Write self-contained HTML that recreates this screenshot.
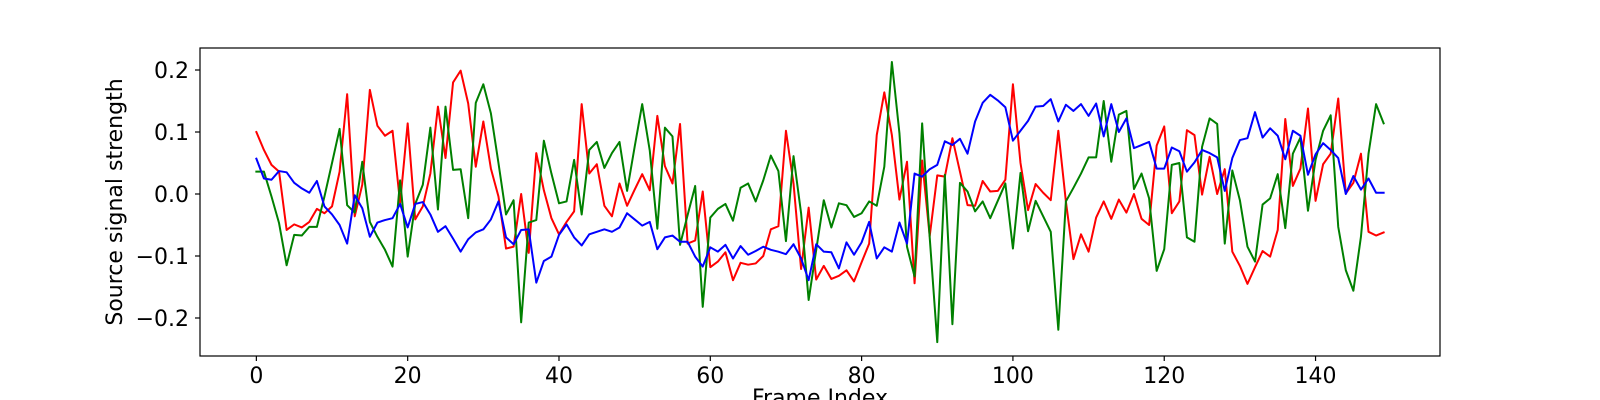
<!DOCTYPE html>
<html><head><meta charset="utf-8"><style>
html,body{margin:0;padding:0;background:#fff;width:1600px;height:400px;overflow:hidden}
svg text{font-family:"DejaVu Sans","Liberation Sans",sans-serif;font-size:22px;fill:#000}
</style></head><body>
<svg id="chart" width="1600" height="400" xmlns="http://www.w3.org/2000/svg">
<rect x="0" y="0" width="1600" height="400" fill="#fff"/>
<g id="series"></g>
<g id="axes"></g>
<text transform="translate(122,202) rotate(-90)" text-anchor="middle">Source signal strength</text>
<text x="820" y="405" text-anchor="middle">Frame Index</text>
</svg>
<script>
const xTicks=[0,20,40,60,80,100,120,140];
const yTicks=[-0.2,-0.1,0.0,0.1,0.2];
const yTickLabels=["\u22120.2","\u22120.1","0.0","0.1","0.2"];
const redSeries=[0.100,0.071,0.047,0.036,-0.058,-0.049,-0.054,-0.045,-0.024,-0.031,
-0.020,0.036,0.161,-0.036,0.015,0.168,0.110,0.094,0.102,-0.015,
0.114,-0.041,-0.020,0.033,0.141,0.058,0.180,0.199,0.146,0.044,
0.117,0.041,-0.004,-0.088,-0.085,0.000,-0.095,0.066,0.006,-0.039,
-0.065,-0.045,-0.028,0.145,0.033,0.048,-0.019,-0.036,0.017,-0.019,
0.007,0.032,0.006,0.126,0.045,0.017,0.113,-0.080,-0.075,0.004,
-0.118,-0.109,-0.094,-0.139,-0.111,-0.114,-0.112,-0.100,-0.057,-0.052,
0.102,0.017,-0.121,-0.022,-0.138,-0.116,-0.137,-0.132,-0.123,-0.141,
-0.110,-0.080,0.095,0.164,0.095,-0.009,0.052,-0.144,0.054,-0.068,
0.030,0.028,0.090,0.036,-0.018,-0.019,0.021,0.004,0.005,0.023,
0.177,0.050,-0.026,0.016,0.002,-0.010,0.102,-0.012,-0.105,-0.065,
-0.093,-0.038,-0.012,-0.040,-0.009,-0.030,0.000,-0.040,-0.050,0.078,
0.109,-0.031,-0.012,0.103,0.095,-0.001,0.060,0.000,0.040,-0.093,
-0.116,-0.145,-0.118,-0.092,-0.101,-0.058,0.121,0.013,0.041,0.138,
-0.011,0.048,0.065,0.154,0.001,0.018,0.065,-0.061,-0.067,-0.062];
const greenSeries=[0.036,0.036,-0.004,-0.047,-0.115,-0.066,-0.067,-0.053,-0.053,-0.004,
0.050,0.105,-0.018,-0.030,0.052,-0.045,-0.069,-0.090,-0.117,0.022,
-0.101,-0.016,0.015,0.107,-0.025,0.141,0.039,0.040,-0.039,0.147,
0.177,0.130,0.050,-0.033,-0.010,-0.207,-0.046,-0.042,0.086,0.033,
-0.015,-0.012,0.055,-0.033,0.071,0.084,0.042,0.066,0.084,0.005,
0.076,0.145,0.070,-0.056,0.107,0.093,-0.082,-0.034,0.013,-0.182,
-0.038,-0.024,-0.016,-0.043,0.010,0.017,-0.012,0.022,0.062,0.037,
-0.076,0.061,-0.031,-0.171,-0.090,-0.010,-0.054,-0.015,-0.018,-0.037,
-0.031,-0.012,-0.019,0.044,0.213,0.098,-0.085,-0.133,0.114,-0.070,
-0.239,0.031,-0.210,0.018,0.004,-0.028,-0.012,-0.039,-0.011,0.017,
-0.088,0.034,-0.060,-0.011,-0.036,-0.061,-0.219,-0.012,0.010,0.033,
0.059,0.059,0.150,0.052,0.128,0.134,0.008,0.033,-0.007,-0.124,
-0.089,0.047,0.050,-0.070,-0.077,0.076,0.122,0.113,-0.080,0.038,
-0.010,-0.085,-0.109,-0.017,-0.007,0.032,-0.055,0.065,0.091,-0.027,
0.055,0.102,0.127,-0.053,-0.123,-0.156,-0.069,0.065,0.145,0.114];
const blueSeries=[0.057,0.025,0.023,0.037,0.035,0.018,0.009,0.002,0.021,-0.020,
-0.033,-0.050,-0.080,-0.002,-0.023,-0.069,-0.046,-0.042,-0.039,-0.016,
-0.054,-0.016,-0.013,-0.033,-0.061,-0.052,-0.072,-0.093,-0.073,-0.062,
-0.057,-0.041,-0.012,-0.070,-0.081,-0.058,-0.057,-0.143,-0.108,-0.101,
-0.066,-0.049,-0.070,-0.083,-0.065,-0.061,-0.057,-0.061,-0.054,-0.031,
-0.041,-0.051,-0.045,-0.089,-0.070,-0.067,-0.077,-0.077,-0.101,-0.117,
-0.086,-0.093,-0.082,-0.104,-0.084,-0.098,-0.092,-0.085,-0.090,-0.093,
-0.097,-0.081,-0.104,-0.139,-0.081,-0.093,-0.094,-0.120,-0.078,-0.098,
-0.078,-0.045,-0.104,-0.086,-0.093,-0.046,-0.080,0.033,0.028,0.040,
0.047,0.085,0.079,0.089,0.065,0.117,0.147,0.160,0.151,0.140,
0.086,0.102,0.118,0.141,0.142,0.153,0.117,0.144,0.134,0.145,
0.126,0.146,0.093,0.145,0.100,0.122,0.074,0.079,0.084,0.041,
0.041,0.075,0.069,0.036,0.051,0.071,0.066,0.059,0.005,0.058,
0.087,0.090,0.132,0.091,0.106,0.094,0.056,0.102,0.094,0.031,
0.064,0.082,0.071,0.058,0.000,0.029,0.007,0.025,0.002,0.002];

const L=200,R=1440,T=48,B=356;
const n=redSeries.length;
const xMin=-(n-1)*0.05, xMax=(n-1)*1.05;
const yMin=-0.2613, yMax=0.2355;
function xs(v){return L+(v-xMin)/(xMax-xMin)*(R-L);}
function ys(v){return B-(v-yMin)/(yMax-yMin)*(B-T);}
const NS="http://www.w3.org/2000/svg";
const sg=document.getElementById('series');
const ag=document.getElementById('axes');
function mk(tag,attrs,parent){const e=document.createElementNS(NS,tag);for(const k in attrs)e.setAttribute(k,attrs[k]);parent.appendChild(e);return e;}

function drawLine(arr,color,name){
  let d='';
  arr.forEach((v,i)=>{d+=(i?'L':'M')+xs(i).toFixed(2)+' '+ys(v).toFixed(2);});
  const p=mk('path',{d:d,fill:'none',stroke:color,'stroke-width':2,'stroke-linejoin':'round','stroke-linecap':'square'},sg);
  
  
}
drawLine(redSeries,'#ff0000','red-series-line');
drawLine(greenSeries,'#008000','green-series-line');
drawLine(blueSeries,'#0000ff','blue-series-line');

const frame=mk('rect',{x:L,y:T,width:R-L,height:B-T,fill:'none',stroke:'#000','stroke-width':1.2},ag);



xTicks.forEach(t=>{
  const x=xs(t);
  const tk=mk('line',{x1:x,x2:x,y1:B,y2:B+5,stroke:'#000','stroke-width':1.2},ag);
  
  
  const lb=mk('text',{x:x,y:B+27,'text-anchor':'middle'},ag);
  lb.textContent=String(t);
  
  
});
yTicks.forEach((t,i)=>{
  const y=ys(t);
  const tk=mk('line',{x1:L-5,x2:L,y1:y,y2:y,stroke:'#000','stroke-width':1.2},ag);
  
  
  const lb=mk('text',{x:L-11,y:y+8,'text-anchor':'end'},ag);
  lb.textContent=yTickLabels[i];
  
  
});
</script>
</body></html>
